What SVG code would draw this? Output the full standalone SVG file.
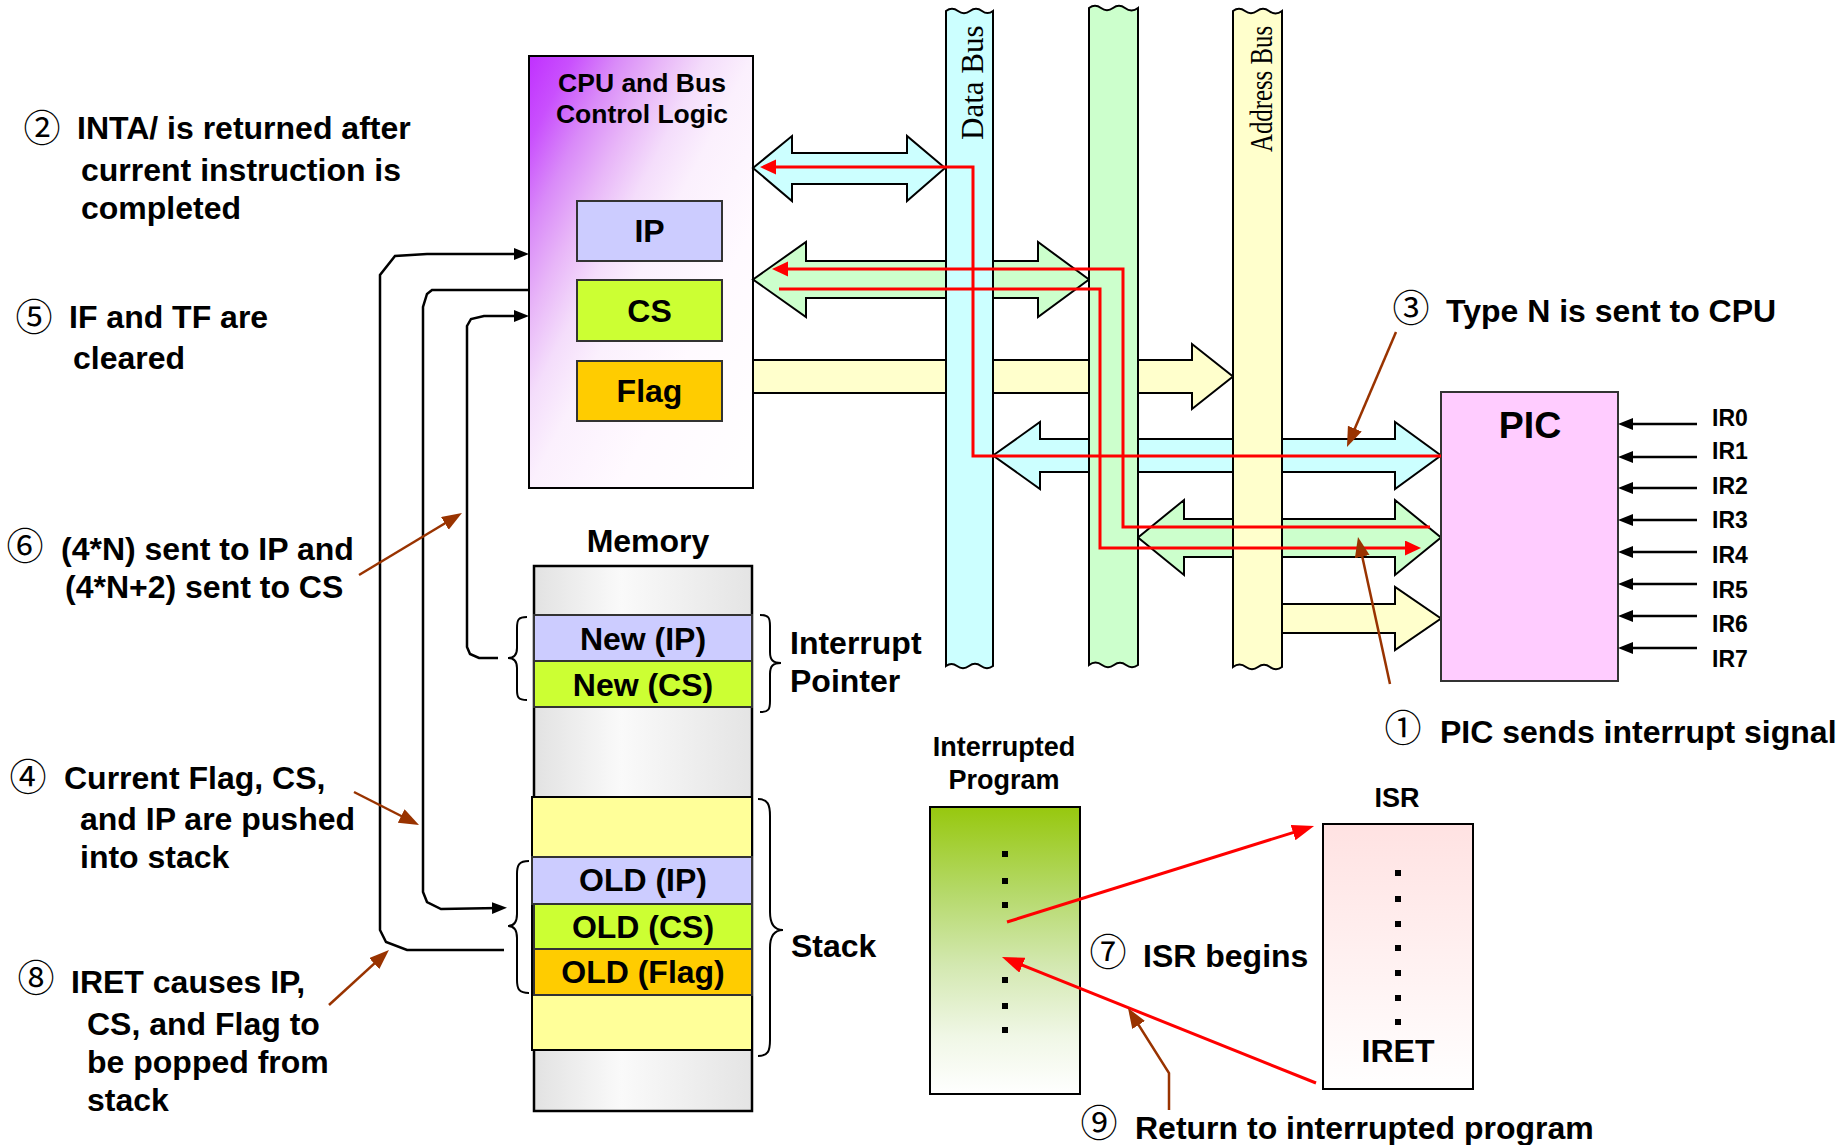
<svg xmlns="http://www.w3.org/2000/svg" width="1848" height="1145" viewBox="0 0 1848 1145">
  <defs>
    <linearGradient id="cpuFill" x1="0" y1="0" x2="1" y2="1">
      <stop offset="0" stop-color="#C030FF"/>
      <stop offset="0.1" stop-color="#C950FD"/>
      <stop offset="0.2" stop-color="#D98AF8"/>
      <stop offset="0.3" stop-color="#E8B6F8"/>
      <stop offset="0.4" stop-color="#F4DDFB"/>
      <stop offset="0.5" stop-color="#FBF0FD"/>
      <stop offset="0.7" stop-color="#FFFAFF"/>
      <stop offset="1" stop-color="#FFFFFF"/>
    </linearGradient>
    <linearGradient id="memFill" x1="0" y1="0" x2="1" y2="0">
      <stop offset="0" stop-color="#E2E2E2"/>
      <stop offset="0.4" stop-color="#FAFAFA"/>
      <stop offset="1" stop-color="#E4E4E4"/>
    </linearGradient>
    <linearGradient id="progFill" x1="0" y1="0" x2="0" y2="1">
      <stop offset="0" stop-color="#97C80E"/>
      <stop offset="0.3" stop-color="#B5D96A"/>
      <stop offset="0.55" stop-color="#D3E8B0"/>
      <stop offset="0.8" stop-color="#F0F7E6"/>
      <stop offset="1" stop-color="#FFFFFF"/>
    </linearGradient>
    <linearGradient id="isrFill" x1="0" y1="0" x2="0" y2="1">
      <stop offset="0" stop-color="#FFE2E2"/>
      <stop offset="1" stop-color="#FFFFFF"/>
    </linearGradient>
    <marker id="headBlack" markerUnits="userSpaceOnUse" markerWidth="16" markerHeight="13" refX="7" refY="6" orient="auto">
      <path d="M0,0 L15,6 L0,12 z" fill="#000"/>
    </marker>
    <marker id="headBrown" markerUnits="userSpaceOnUse" markerWidth="21" markerHeight="16" refX="10" refY="7.5" orient="auto">
      <path d="M0,0 L20,7.5 L0,15 z" fill="#993300"/>
    </marker>
    <marker id="headRed" markerUnits="userSpaceOnUse" markerWidth="23" markerHeight="17" refX="10" refY="8" orient="auto">
      <path d="M0,0 L22,8 L0,16 z" fill="#FF0000"/>
    </marker>
    <marker id="headRedSmall" markerUnits="userSpaceOnUse" markerWidth="17" markerHeight="16" refX="8" refY="7.5" orient="auto">
      <path d="M0,0 L16,7.5 L0,15 z" fill="#FF0000"/>
    </marker>
  </defs>
  <style>
    text { font-family: "Liberation Sans", Arial, sans-serif; font-weight: bold; fill: #000; }
    .lbl { font-size: 32px; }
    .mid { text-anchor: middle; }
    .small { font-size: 27px; }
    .ir { font-size: 23px; }
    .num { font-family: "Noto Sans CJK JP", "DejaVu Sans", sans-serif; font-weight: normal; font-size: 37px; text-anchor: middle; }
    .bus { font-family: "Liberation Serif", "Times New Roman", serif; font-weight: normal; font-size: 31px; }
    .box { stroke: #000; stroke-width: 2; }
    .cell { stroke: #333; stroke-width: 2; }
    .band { stroke: #000; stroke-width: 2; stroke-linejoin: miter; }
    .wire { fill: none; stroke: #000; stroke-width: 2.5; }
    .call { fill: none; stroke: #993300; stroke-width: 2.5; marker-end: url(#headBrown); }
    .sig { fill: none; stroke: #FF0000; stroke-width: 3; }
    .brace { fill: none; stroke: #000; stroke-width: 2; }
  </style>

  <rect width="1848" height="1145" fill="#FFFFFF"/>

  <!-- CPU -->
  <g id="cpu">
    <rect x="529" y="56" width="224" height="432" fill="url(#cpuFill)" class="box"/>
    <text x="642" y="92" class="mid" font-size="26.5">CPU and Bus</text>
    <text x="642" y="123" class="mid" font-size="26.5">Control Logic</text>
    <rect x="577" y="201" width="145" height="60" fill="#CCCCFF" class="cell"/>
    <text x="649.5" y="242" class="lbl mid">IP</text>
    <rect x="577" y="280" width="145" height="61" fill="#CCFF33" class="cell"/>
    <text x="649.5" y="321.5" class="lbl mid">CS</text>
    <rect x="577" y="361" width="145" height="60" fill="#FFCC00" class="cell"/>
    <text x="649.5" y="402" class="lbl mid">Flag</text>
  </g>

  <!-- bus links (block arrows) -->
  <g id="bus-links">
    <polygon class="band" fill="#CCFFFF" points="753,168 792,136 792,153 907,153 907,136 945,168 907,201 907,184 792,184 792,201"/>
    <polygon class="band" fill="#CCFFCC" points="753,279.5 806,242 806,261 1038,261 1038,242 1089,279.5 1038,317 1038,298 806,298 806,317"/>
    <polygon class="band" fill="#FFFFCC" points="753,360 1192,360 1192,344 1233,376.5 1192,409 1192,393 753,393"/>
    <polygon class="band" fill="#CCFFFF" points="993,455.5 1040,422 1040,439 1395,439 1395,422 1441,455.5 1395,489 1395,472 1040,472 1040,489"/>
    <polygon class="band" fill="#CCFFCC" points="1138,537.5 1184,500 1184,519 1395,519 1395,500 1441,537.5 1395,575 1395,557 1184,557 1184,575"/>
    <polygon class="band" fill="#FFFFCC" points="1282,604 1395,604 1395,587 1441,618.5 1395,650 1395,633 1282,633"/>
  </g>

  <!-- buses -->
  <g id="data-bus">
    <path class="box" fill="#CCFFFF" d="M946,11 c4,-3 8,-3 12,0 s8,3 12,0 s8,-3 12,0 s7,3 11,0 L993,666 c-4,3 -8,3 -12,0 s-8,-3 -12,0 s-8,3 -12,0 s-7,-3 -11,0 Z"/>
    <text class="bus" transform="translate(983,140) rotate(-90)">Data Bus</text>
  </g>
  <g id="control-bus">
    <path class="box" fill="#CCFFCC" d="M1089,8 c4,-3 8,-3 12,0 s8,3 12,0 s8,-3 12,0 s9,3 13,0 L1138,665 c-4,3 -8,3 -12,0 s-8,-3 -12,0 s-8,3 -12,0 s-9,-3 -13,0 Z"/>
  </g>
  <g id="address-bus">
    <path class="box" fill="#FFFFCC" d="M1233,11 c4,-3 8,-3 12,0 s8,3 12,0 s8,-3 12,0 s9,3 13,0 L1282,667 c-4,3 -8,3 -12,0 s-8,-3 -12,0 s-8,3 -12,0 s-9,-3 -13,0 Z"/>
    <text class="bus" transform="translate(1272,152) rotate(-90) scale(0.8,1)">Address Bus</text>
  </g>

  <!-- PIC -->
  <g id="pic">
    <rect x="1441" y="392" width="177" height="289" fill="#FFCCFF" class="cell"/>
    <text x="1530" y="438" class="mid" font-size="37.5">PIC</text>
  </g>

  <!-- IR inputs -->
  <g id="ir-inputs">
    <text x="1712" y="426" class="ir">IR0</text>
    <text x="1712" y="459" class="ir">IR1</text>
    <text x="1712" y="494" class="ir">IR2</text>
    <text x="1712" y="528" class="ir">IR3</text>
    <text x="1712" y="563" class="ir">IR4</text>
    <text x="1712" y="598" class="ir">IR5</text>
    <text x="1712" y="632" class="ir">IR6</text>
    <text x="1712" y="667" class="ir">IR7</text>
  </g>

  <!-- Memory -->
  <g id="memory">
    <text x="648" y="552" class="lbl mid">Memory</text>
    <rect x="534" y="566" width="218" height="545" fill="url(#memFill)" stroke="#000" stroke-width="2.5"/>
    <rect x="534" y="615" width="218" height="46" fill="#CCCCFF" class="cell"/>
    <text x="643" y="650" class="lbl mid">New (IP)</text>
    <rect x="534" y="661" width="218" height="46" fill="#CCFF33" class="cell"/>
    <text x="643" y="696" class="lbl mid">New (CS)</text>
  </g>
  <g id="stack">
    <rect x="532" y="797" width="220" height="253" fill="#FFFF99" class="box"/>
    <rect x="532" y="857" width="220" height="47" fill="#CCCCFF" class="cell"/>
    <text x="643" y="891" class="lbl mid">OLD (IP)</text>
    <rect x="534" y="904" width="218" height="45" fill="#CCFF33" class="cell"/>
    <text x="643" y="938" class="lbl mid">OLD (CS)</text>
    <rect x="534" y="949" width="218" height="46" fill="#FFCC00" class="cell"/>
    <text x="643" y="983" class="lbl mid">OLD (Flag)</text>
  </g>
  <g id="braces">
    <path class="brace" d="M527,617 C518,617 517,620 517,628 L517,648 C517,655 514,658 508,658 C514,658 517,661 517,668 L517,690 C517,697 518,700 527,700"/>
    <path class="brace" d="M760,615 C769,615 770,618 770,626 L770,652 C770,660 773,663 781,663 C773,663 770,666 770,674 L770,701 C770,709 769,712 760,712"/>
    <path class="brace" d="M529,861 C519,861 517,865 517,874 L517,914 C517,922 514,926 508,926 C514,926 517,930 517,938 L517,980 C517,989 519,993 529,993"/>
    <path class="brace" d="M758,799 C768,799 770,805 770,816 L770,912 C770,924 774,930 783,930 C774,930 770,936 770,948 L770,1040 C770,1051 768,1056 758,1056"/>
  </g>
  <g id="memory-labels">
    <text x="790" y="654" class="lbl">Interrupt</text>
    <text x="790" y="692" class="lbl">Pointer</text>
    <text x="791" y="957" class="lbl">Stack</text>
  </g>

  <!-- Interrupted program and ISR -->
  <g id="program">
    <text x="1004" y="756" class="small mid">Interrupted</text>
    <text x="1004" y="789" class="small mid">Program</text>
    <rect x="930" y="807" width="150" height="287" fill="url(#progFill)" class="box"/>
    <g fill="#000">
      <rect x="1002" y="851" width="6" height="6"/>
      <rect x="1002" y="878" width="6" height="6"/>
      <rect x="1002" y="902" width="6" height="6"/>
      <rect x="1002" y="977" width="6" height="6"/>
      <rect x="1002" y="1003" width="6" height="6"/>
      <rect x="1002" y="1027" width="6" height="6"/>
    </g>
  </g>
  <g id="isr">
    <text x="1397" y="807" class="small mid">ISR</text>
    <rect x="1323" y="824" width="150" height="265" fill="url(#isrFill)" class="box"/>
    <g fill="#000">
      <rect x="1395" y="870" width="6" height="6"/>
      <rect x="1395" y="896" width="6" height="6"/>
      <rect x="1395" y="921" width="6" height="6"/>
      <rect x="1395" y="945" width="6" height="6"/>
      <rect x="1395" y="970" width="6" height="6"/>
      <rect x="1395" y="995" width="6" height="6"/>
      <rect x="1395" y="1019" width="6" height="6"/>
    </g>
    <text x="1398" y="1062" class="lbl mid">IRET</text>
  </g>

  <!-- step notes -->
  <g id="notes">
    <text x="42" y="142" class="num">②</text>
    <text x="77" y="139" class="lbl">INTA/ is returned after</text>
    <text x="81" y="181" class="lbl">current instruction is</text>
    <text x="81" y="219" class="lbl">completed</text>

    <text x="34" y="331" class="num">⑤</text>
    <text x="69" y="328" class="lbl">IF and TF are</text>
    <text x="73" y="369" class="lbl">cleared</text>

    <text x="25" y="560" class="num">⑥</text>
    <text x="61" y="560" class="lbl">(4*N) sent to IP and</text>
    <text x="65" y="598" class="lbl">(4*N+2) sent to CS</text>

    <text x="28" y="791" class="num">④</text>
    <text x="64" y="789" class="lbl">Current Flag, CS,</text>
    <text x="80" y="830" class="lbl">and IP are pushed</text>
    <text x="80" y="868" class="lbl">into stack</text>

    <text x="36" y="992" class="num">⑧</text>
    <text x="71" y="993" class="lbl">IRET causes IP,</text>
    <text x="87" y="1035" class="lbl">CS, and Flag to</text>
    <text x="87" y="1073" class="lbl">be popped from</text>
    <text x="87" y="1111" class="lbl">stack</text>

    <text x="1411" y="322" class="num">③</text>
    <text x="1446" y="322" class="lbl">Type N is sent to CPU</text>

    <text x="1403" y="742" class="num">①</text>
    <text x="1440" y="743" class="lbl">PIC sends interrupt signal</text>

    <text x="1108" y="966" class="num">⑦</text>
    <text x="1143" y="967" class="lbl">ISR begins</text>

    <text x="1099" y="1137" class="num">⑨</text>
    <text x="1135" y="1139" class="lbl">Return to interrupted program</text>
  </g>

  <!-- connectors -->
  <g id="connectors">
    <!-- register transfer paths -->
    <polyline class="wire" points="504,950 407,950 386,942 380,930 380,275 395,256 427,254 521,254" marker-end="url(#headBlack)"/>
    <polyline class="wire" points="529,290 432,290 427,294 423,307 423,892 427,902 441,909 499,908" marker-end="url(#headBlack)"/>
    <polyline class="wire" points="498,658 479,658 470,654 467,647 467,326 471,319 484,316 521,316" marker-end="url(#headBlack)"/>

    <!-- IR request lines -->
    <g class="wire" stroke-width="3">
      <line x1="1697" y1="424" x2="1626" y2="424" marker-end="url(#headBlack)"/>
      <line x1="1697" y1="457" x2="1626" y2="457" marker-end="url(#headBlack)"/>
      <line x1="1697" y1="488" x2="1626" y2="488" marker-end="url(#headBlack)"/>
      <line x1="1697" y1="520" x2="1626" y2="520" marker-end="url(#headBlack)"/>
      <line x1="1697" y1="552" x2="1626" y2="552" marker-end="url(#headBlack)"/>
      <line x1="1697" y1="584" x2="1626" y2="584" marker-end="url(#headBlack)"/>
      <line x1="1697" y1="616" x2="1626" y2="616" marker-end="url(#headBlack)"/>
      <line x1="1697" y1="648" x2="1626" y2="648" marker-end="url(#headBlack)"/>
    </g>

    <!-- signal routes -->
    <polyline class="sig" points="1441,456 973,456 973,167 768,167" marker-end="url(#headRedSmall)"/>
    <polyline class="sig" points="1430,527 1123,527 1123,269 780,269" marker-end="url(#headRedSmall)"/>
    <polyline class="sig" points="779,289 1100,289 1100,548 1413,548" marker-end="url(#headRedSmall)"/>

    <!-- program flow -->
    <line class="sig" x1="1007" y1="922" x2="1302.6" y2="829.6" marker-end="url(#headRed)"/>
    <line class="sig" x1="1316" y1="1083" x2="1013.1" y2="961.5" marker-end="url(#headRed)"/>

    <!-- note callouts -->
    <line class="call" x1="359" y1="575" x2="453.4" y2="518.2"/>
    <line class="call" x1="354" y1="792" x2="410.1" y2="820.5"/>
    <line class="call" x1="329" y1="1005" x2="381.6" y2="956.8"/>
    <line class="call" x1="1396" y1="332" x2="1350.9" y2="437.8"/>
    <line class="call" x1="1390" y1="684" x2="1360.1" y2="546.8"/>
    <polyline class="call" points="1169,1110 1169,1073 1133.3,1016.5"/>
  </g>
</svg>
